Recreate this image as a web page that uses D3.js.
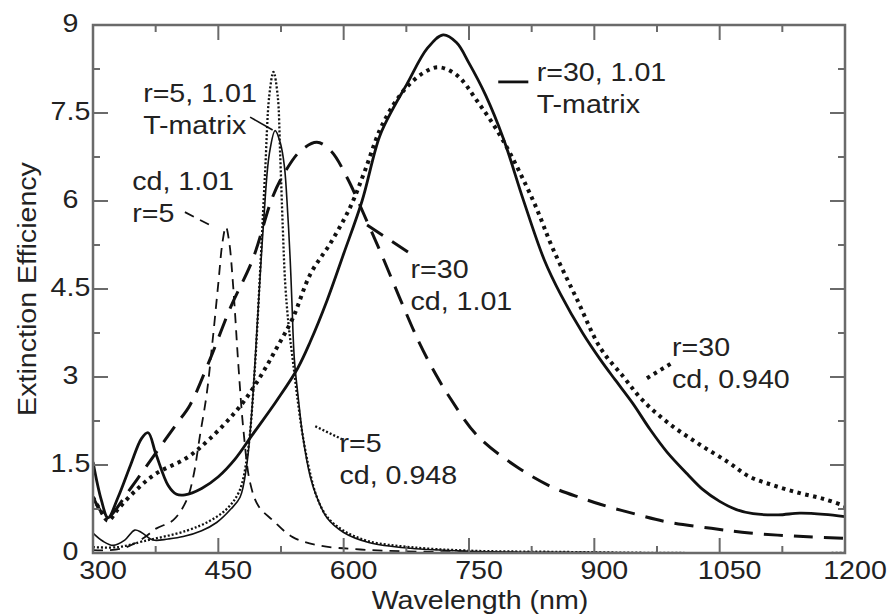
<!DOCTYPE html>
<html>
<head>
<meta charset="utf-8">
<script src="https://cdn.jsdelivr.net/npm/d3@7"></script>
<style>
  body { margin: 0; background: #fff; }
  svg text { font-family: "Liberation Sans", Arial, Helvetica, sans-serif; fill: #222; }
</style>
</head>
<body>
<svg id="chart" width="893" height="616"></svg>
<script>
// Extinction efficiency spectra of silver particles (wavelength in nm)

// r=30, m=1.01, T-matrix (thick solid)
const t30Wl  = [300, 310, 318, 330, 345, 358, 366, 375, 390, 400, 410, 430, 450, 470, 490, 520, 545, 560, 580, 600, 622, 643, 660, 676, 700, 719, 735, 750, 770, 791, 815, 840, 860, 886, 907, 925, 946, 967, 987, 1011, 1030, 1050, 1070, 1090, 1120, 1146, 1175, 1200];
const t30Ext = [1.55, 0.9, 0.6, 0.95, 1.5, 1.95, 2.05, 1.7, 1.15, 1.0, 0.99, 1.1, 1.3, 1.6, 2.0, 2.6, 3.15, 3.6, 4.3, 5.1, 6.0, 7.1, 7.6, 8.0, 8.6, 8.83, 8.7, 8.35, 7.8, 7.07, 6.02, 5.0, 4.4, 3.75, 3.3, 2.95, 2.55, 2.1, 1.72, 1.35, 1.08, 0.88, 0.74, 0.67, 0.65, 0.68, 0.66, 0.62];

// r=30, cd, 0.940 (thick dotted)
const cd30bWl  = [300, 310, 318, 330, 350, 375, 412, 440, 476, 500, 520, 539, 560, 585, 608, 625, 643, 660, 676, 695, 713, 735, 760, 790, 827, 850, 880, 907, 935, 958, 990, 1026, 1060, 1086, 1115, 1146, 1175, 1200];
const cd30bExt = [0.95, 0.7, 0.55, 0.75, 1.05, 1.35, 1.62, 1.95, 2.5, 3.0, 3.5, 4.0, 4.75, 5.3, 5.9, 6.5, 7.2, 7.65, 7.95, 8.18, 8.28, 8.15, 7.7, 7.05, 6.0, 5.2, 4.3, 3.5, 3.0, 2.6, 2.2, 1.85, 1.55, 1.3, 1.15, 1.02, 0.92, 0.8];

// r=30, cd, 1.01 (long dash)
const cd30aWl  = [300, 310, 318, 324, 340, 360, 380, 400, 416, 440, 465, 491, 515, 530, 548, 568, 585, 604, 628, 645, 667, 690, 710, 727, 760, 807, 850, 886, 907, 950, 987, 1040, 1086, 1150, 1200];
const cd30aExt = [0.95, 0.7, 0.6, 0.68, 1.0, 1.4, 1.8, 2.2, 2.52, 3.3, 4.2, 5.0, 6.07, 6.5, 6.85, 7.0, 6.85, 6.4, 5.65, 5.1, 4.35, 3.6, 3.05, 2.65, 2.0, 1.47, 1.12, 0.93, 0.83, 0.66, 0.53, 0.42, 0.34, 0.28, 0.25];

// r=5, m=1.01, T-matrix (thin solid)
const t5Wl  = [300, 312, 324, 338, 350, 358, 372, 390, 408, 430, 448, 465, 476, 484, 490, 497, 504, 511, 518, 524, 529, 533, 536, 538, 541, 546, 551, 560, 568, 580, 600, 630, 680, 750, 850, 1000, 1200];
const t5Ext = [0.34, 0.2, 0.13, 0.22, 0.39, 0.35, 0.22, 0.24, 0.28, 0.38, 0.52, 0.75, 0.95, 1.5, 2.4, 4.0, 5.6, 6.8, 7.2, 7.0, 6.6, 5.8, 5.0, 4.3, 3.3, 2.6, 2.0, 1.3, 0.95, 0.6, 0.35, 0.18, 0.08, 0.03, 0.01, 0.0, 0.0];

// r=5, cd, 0.948 (thin dotted)
const cd5bWl  = [300, 330, 360, 412, 440, 460, 475, 485, 493, 500, 506, 511, 516, 521, 524, 527, 530, 534, 539, 545, 551, 560, 568, 580, 600, 630, 680, 750, 850, 1000, 1200];
const cd5bExt = [0.1, 0.1, 0.2, 0.38, 0.55, 0.75, 1.05, 1.7, 3.0, 4.8, 6.5, 7.8, 8.2, 7.8, 6.8, 5.6, 4.6, 3.9, 3.3, 2.6, 2.0, 1.35, 0.95, 0.62, 0.38, 0.2, 0.1, 0.04, 0.02, 0.0, 0.0];

// r=5, cd, 1.01 (short dash)
const cd5aWl  = [300, 320, 340, 360, 376, 396, 412, 420, 428, 436, 443, 450, 455, 459, 463, 468, 474, 480, 488, 498, 515, 539, 570, 620, 700, 800, 1000, 1200];
const cd5aExt = [0.05, 0.05, 0.1, 0.25, 0.42, 0.56, 0.9, 1.3, 2.0, 2.7, 3.6, 4.6, 5.3, 5.56, 5.3, 4.5, 3.2, 2.1, 1.2, 0.8, 0.56, 0.27, 0.13, 0.06, 0.02, 0.01, 0.0, 0.0];

// axis ticks
const xTicks = [300, 450, 600, 750, 900, 1050, 1200];
const xMinor = [375, 525, 675, 825, 975, 1125];
const yTicks = [0, 1.5, 3, 4.5, 6, 7.5, 9];
const yTickLabels = ["0", "1.5", "3", "4.5", "6", "7.5", "9"];
const yMinor = [0.75, 2.25, 3.75, 5.25, 6.75, 8.25];

// curve labels: two text lines each, with a short leader drawn in the curve's style
const noteLines = [
  ["r=30, 1.01", "T-matrix"],
  ["r=5, 1.01", "T-matrix"],
  ["cd, 1.01", "r=5"],
  ["r=30", "cd, 1.01"],
  ["r=5", "cd, 0.948"],
  ["r=30", "cd, 0.940"]
];
// leader endpoints [wl0, ext0, wl1, ext1]
const noteLeaders = [
  [785, 8.03, 821, 8.03],
  [488, 7.43, 515, 7.21],
  [410, 5.81, 444, 5.56],
  [628, 5.59, 679, 5.11],
  [566, 2.16, 598, 1.94],
  [963, 2.98, 993, 3.24]
];
// text anchor (left edge wavelength, first baseline ext)
const noteAnchors = [
  [831, 8.05],
  [360, 7.68],
  [347, 6.19],
  [680, 4.69],
  [595, 1.72],
  [993, 3.35]
];

const svg = d3.select("#chart");
const x = d3.scaleLinear().domain([300, 1200]).range([93, 845]);
const y = d3.scaleLinear().domain([0, 9]).range([553, 25]);

const ink = "#111";
const frameColor = "#6a6a6a";
const font = 26, stretch = 1.1, lineGap = 32;

// series definitions: data + stroke style
const series = [
  { wl: t30Wl,  ext: t30Ext,  width: 2.8, dash: null },
  { wl: cd30bWl, ext: cd30bExt, width: 4,  dash: "3.5 4.5" },
  { wl: cd30aWl, ext: cd30aExt, width: 3,  dash: "19 11" },
  { wl: t5Wl,   ext: t5Ext,   width: 1.6, dash: null },
  { wl: cd5bWl, ext: cd5bExt, width: 2.3, dash: "2 2" },
  { wl: cd5aWl, ext: cd5aExt, width: 1.8, dash: "10 7" }
];
const noteStyle = [0, 3, 5, 2, 4, 1]; // series index whose style each leader uses

const line = d3.line()
  .x(d => x(d[0]))
  .y(d => y(d[1]))
  .curve(d3.curveCatmullRom.alpha(0.5));

const plot = svg.append("g");
plot.append("defs").append("clipPath").attr("id", "clip")
  .append("rect").attr("x", 93).attr("y", 25).attr("width", 752).attr("height", 528);

const curves = plot.append("g").attr("clip-path", "url(#clip)");
series.forEach(s => {
  curves.append("path")
    .attr("d", line(s.wl.map((w, i) => [w, s.ext[i]])))
    .attr("fill", "none")
    .attr("stroke", ink)
    .attr("stroke-width", s.width)
    .attr("stroke-dasharray", s.dash)
    .attr("stroke-linejoin", "round");
});

// frame
svg.append("rect")
  .attr("x", x(300)).attr("y", y(9))
  .attr("width", x(1200) - x(300)).attr("height", y(0) - y(9))
  .attr("fill", "none").attr("stroke", frameColor).attr("stroke-width", 2.5);

// inward ticks on all four sides
const ticks = svg.append("g").attr("stroke", frameColor).attr("stroke-width", 2);
const major = 15, minor = 7;
xTicks.concat(xMinor).forEach(v => {
  const len = xTicks.includes(v) ? major : minor;
  ticks.append("line").attr("x1", x(v)).attr("x2", x(v)).attr("y1", y(0)).attr("y2", y(0) - len);
  ticks.append("line").attr("x1", x(v)).attr("x2", x(v)).attr("y1", y(9)).attr("y2", y(9) + len);
});
yTicks.concat(yMinor).forEach(v => {
  const len = yTicks.includes(v) ? major : minor;
  ticks.append("line").attr("y1", y(v)).attr("y2", y(v)).attr("x1", x(300)).attr("x2", x(300) + len);
  ticks.append("line").attr("y1", y(v)).attr("y2", y(v)).attr("x1", x(1200)).attr("x2", x(1200) - len);
});

function label(g, txt, px, py, anchor) {
  return g.append("text")
    .attr("transform", `translate(${px},${py}) scale(${stretch},1)`)
    .attr("text-anchor", anchor || "start")
    .attr("font-size", font)
    .text(txt);
}

const axisText = svg.append("g");
xTicks.forEach(v => label(axisText, String(v), x(v) + 10, 579, "middle"));
yTicks.forEach((v, i) => label(axisText, yTickLabels[i], 70.5, y(v) + 7, "middle"));
label(axisText, "Wavelength (nm)", 480, 609, "middle");
axisText.append("text")
  .attr("transform", `translate(36,${(y(0) + y(9)) / 2}) scale(1,${stretch}) rotate(-90)`)
  .attr("text-anchor", "middle")
  .attr("font-size", font)
  .text("Extinction Efficiency");

// curve annotations
const notes = svg.append("g");
noteLines.forEach((lines, i) => {
  const s = series[noteStyle[i]];
  const [w0, e0, w1, e1] = noteLeaders[i];
  notes.append("line")
    .attr("x1", x(w0)).attr("y1", y(e0)).attr("x2", x(w1)).attr("y2", y(e1))
    .attr("stroke", ink)
    .attr("stroke-width", s.width)
    .attr("stroke-dasharray", s.dash);
  const [aw, ae] = noteAnchors[i];
  lines.forEach((t, k) => label(notes, t, x(aw), y(ae) + k * lineGap));
});
</script>
</body>
</html>
